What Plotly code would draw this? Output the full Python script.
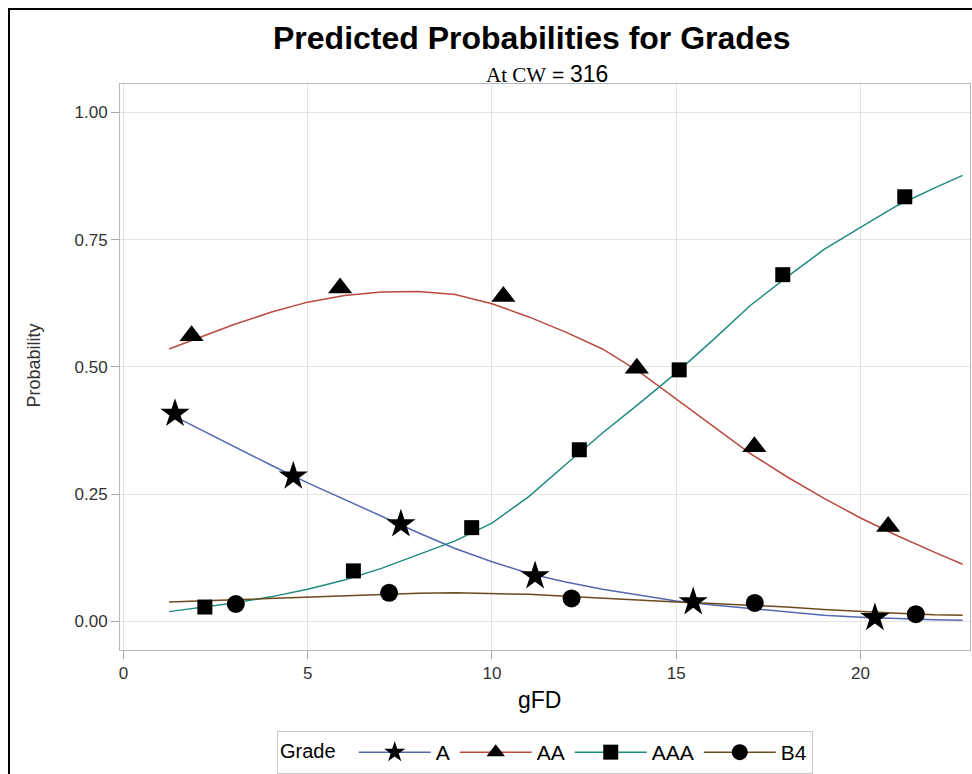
import plotly.graph_objects as go

# ---- data ----
x_curve = [1.24, 2, 3, 4, 5, 6, 7, 8, 9, 10, 11, 12, 13, 14, 15, 16, 17, 18, 19, 20, 21, 22, 22.77]
p_A   = [0.408, 0.380, 0.344, 0.307, 0.272, 0.239, 0.207, 0.174, 0.143, 0.117, 0.094, 0.077, 0.063,
         0.051, 0.040, 0.032, 0.025, 0.018, 0.012, 0.008, 0.005, 0.003, 0.002]
p_AA  = [0.535, 0.556, 0.583, 0.607, 0.627, 0.640, 0.647, 0.648, 0.642, 0.624, 0.598, 0.568, 0.535,
         0.490, 0.437, 0.384, 0.330, 0.284, 0.242, 0.203, 0.168, 0.136, 0.112]
p_AAA = [0.019, 0.026, 0.036, 0.048, 0.063, 0.081, 0.104, 0.131, 0.158, 0.193, 0.245, 0.308, 0.370,
         0.428, 0.488, 0.553, 0.620, 0.676, 0.730, 0.774, 0.817, 0.851, 0.876]
p_B4  = [0.038, 0.040, 0.042, 0.044, 0.047, 0.050, 0.053, 0.055, 0.056, 0.055, 0.053, 0.049, 0.045,
         0.041, 0.038, 0.035, 0.032, 0.028, 0.023, 0.019, 0.016, 0.013, 0.012]

mx_A   = [1.40, 4.61, 7.53, 11.17, 15.46, 20.39]
my_A   = [0.408, 0.285, 0.191, 0.089, 0.038, 0.007]
mx_AA  = [1.85, 5.88, 10.31, 13.93, 17.12, 20.75]
my_AA  = [0.561, 0.655, 0.638, 0.497, 0.343, 0.186]
mx_AAA = [2.21, 6.24, 9.45, 12.37, 15.08, 17.89, 21.2]
my_AAA = [0.028, 0.099, 0.184, 0.337, 0.494, 0.681, 0.834]
mx_B4  = [3.05, 7.21, 12.16, 17.13, 21.5]
my_B4  = [0.034, 0.056, 0.045, 0.036, 0.014]

grades = ["A", "AA", "AAA", "B4"]
x_ticks = [0, 5, 10, 15, 20]
y_ticks = [0.0, 0.25, 0.5, 0.75, 1.0]

colors = {"A": "#5468b0", "AA": "#b84a3e", "AAA": "#1f8a7e", "B4": "#6b4a1e"}
symbols = {"A": "star", "AA": "triangle-up", "AAA": "square", "B4": "circle"}
sizes = {"A": 22, "AA": 21, "AAA": 15, "B4": 18}

curves = {"A": p_A, "AA": p_AA, "AAA": p_AAA, "B4": p_B4}
marks = {"A": (mx_A, my_A), "AA": (mx_AA, my_AA), "AAA": (mx_AAA, my_AAA), "B4": (mx_B4, my_B4)}

FONT = "Liberation Sans, Arial, sans-serif"

fig = go.Figure()
for g in grades:
    fig.add_trace(go.Scatter(x=x_curve, y=curves[g], mode="lines",
                             line=dict(color=colors[g], width=1.5),
                             showlegend=False, legendgroup=g, hoverinfo="skip"))

def with_gaps(vals):
    out = []
    for v in vals:
        out += [v, None]
    return out[:-1]

for g in grades:
    mx, my = marks[g]
    fig.add_trace(go.Scatter(x=with_gaps(mx), y=with_gaps(my), mode="lines+markers",
                             connectgaps=False, name=g, legendgroup=g,
                             line=dict(color=colors[g], width=1.5),
                             marker=dict(symbol=symbols[g], size=sizes[g], color="black")))

L, R, T, B = 120, 2, 84, 124
W, H = 972, 774
pw, ph = W - L - R, H - T - B

def px(xp):
    return (xp - L) / pw

def py(yp):
    return (H - B - yp) / ph

fig.update_layout(
    width=W, height=H,
    margin=dict(l=L, r=R, t=T, b=B, autoexpand=False),
    paper_bgcolor="white", plot_bgcolor="white",
    font=dict(family=FONT, color="#333333"),
    showlegend=True,
    legend=dict(orientation="h", x=px(545), xanchor="center", y=py(731), yanchor="top",
                title=dict(text="Grade  ", font=dict(size=20, color="black", family=FONT)),
                font=dict(size=21, color="black", family=FONT),
                bordercolor="#c8c8c8", borderwidth=1, bgcolor="white",
                itemwidth=72, tracegroupgap=0),
    xaxis=dict(range=[-0.092, 22.97], tickvals=x_ticks, ticktext=[str(v) for v in x_ticks],
               showgrid=True, gridcolor="#e4e4e4", gridwidth=1, zeroline=False,
               showline=True, mirror=True, linecolor="#b4b9bd", linewidth=1,
               ticks="outside", ticklen=8, tickcolor="#a8a8a8",
               tickfont=dict(size=17, color="#333333", family=FONT)),
    yaxis=dict(range=[-0.0564, 1.0556], tickvals=y_ticks, tickformat=".2f",
               showgrid=True, gridcolor="#e4e4e4", gridwidth=1, zeroline=False,
               showline=True, mirror=True, linecolor="#b4b9bd", linewidth=1,
               ticks="outside", ticklen=8, tickcolor="#a8a8a8",
               tickfont=dict(size=17, color="#333333", family=FONT)),
    annotations=[
        dict(text="<b>Predicted Probabilities for Grades</b>", xref="paper", yref="paper",
             x=px(531.5), y=py(38), xanchor="center", yanchor="middle", showarrow=False,
             font=dict(size=32, color="black", family=FONT)),
        dict(text="<span style='font-family:Liberation Serif, Times New Roman, serif'>At CW</span> = <span style='font-size:23px'>316</span>",
             xref="paper", yref="paper", x=px(546.5), y=py(74), xanchor="center", yanchor="middle",
             showarrow=False, font=dict(size=21, color="black", family=FONT)),
        dict(text="Probability", xref="paper", yref="paper", x=px(33.5), y=py(366),
             xanchor="center", yanchor="middle", textangle=-90, showarrow=False,
             font=dict(size=18, color="#333333", family=FONT)),
        dict(text="gFD", xref="paper", yref="paper", x=px(539), y=py(700),
             xanchor="center", yanchor="middle", showarrow=False,
             font=dict(size=23, color="black", family=FONT)),
    ],
    shapes=[dict(type="rect", xref="paper", yref="paper",
                 x0=px(9), x1=px(1100), y0=py(1000), y1=py(9),
                 line=dict(color="black", width=2), fillcolor="rgba(0,0,0,0)", layer="above")],
)

fig.write_html("out.html", config={"displayModeBar": False},
               post_script="document.body.style.margin='0px';")
